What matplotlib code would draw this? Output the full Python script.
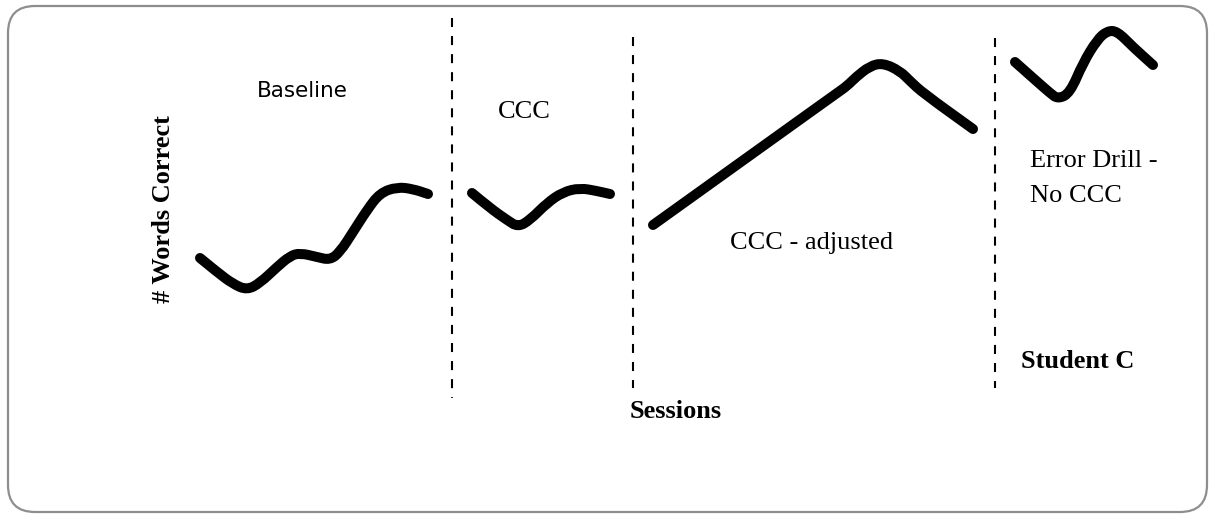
import matplotlib.pyplot as plt
from matplotlib.patches import FancyBboxPatch, PathPatch
from matplotlib.path import Path

# phase curves (x = session position, y = height on page, down is larger)
baseline_x = [200, 217, 233, 247, 260, 277, 290, 300, 317, 330, 340, 353, 367, 380, 397, 413, 428]
baseline_y = [258, 272, 284, 290, 283, 267, 256, 253, 257, 260, 252, 232, 210, 193, 187, 189, 194]

ccc_x = [472, 490, 507, 518, 530, 547, 563, 580, 597, 610]
ccc_y = [193, 208, 220, 227, 220, 203, 192, 188, 191, 194]

adjusted_x = [653, 837, 847, 856, 870, 883, 900, 910, 923, 973]
adjusted_y = [225, 93, 86, 77, 66, 63, 71, 81, 93, 129]

drill_x = [1015, 1033, 1050, 1058, 1070, 1083, 1097, 1107, 1117, 1133, 1153]
drill_y = [62, 78, 93, 99, 93, 63, 40, 31, 31, 47, 65]

# phase change lines: x, top, bottom
phase_x = [452, 633, 995]
phase_top = [18, 37, 38]
phase_bottom = [398, 388, 388]

plt.rcParams['lines.scale_dashes'] = False


def smooth_path(xs, ys):
    pts = list(zip(xs, ys))
    verts = [pts[0]]
    codes = [Path.MOVETO]
    for i in range(1, len(pts) - 1):
        mid = ((pts[i][0] + pts[i + 1][0]) / 2, (pts[i][1] + pts[i + 1][1]) / 2)
        verts += [pts[i], mid]
        codes += [Path.CURVE3, Path.CURVE3]
    verts.append(pts[-1])
    codes.append(Path.LINETO)
    return Path(verts, codes)


fig = plt.figure(figsize=(12.1, 5.14), dpi=100)
ax = fig.add_axes([0, 0, 1, 1])
ax.set_xlim(0, 1210)
ax.set_ylim(514, 0)
ax.axis("off")

box = FancyBboxPatch((8, 6), 1199, 506, boxstyle="round,pad=0,rounding_size=27",
                     fill=False, edgecolor="#8e8e8e", linewidth=1.6)
ax.add_patch(box)

for xs, ys in [(baseline_x, baseline_y), (ccc_x, ccc_y), (adjusted_x, adjusted_y), (drill_x, drill_y)]:
    ax.add_patch(PathPatch(smooth_path(xs, ys), fill=False, edgecolor="black", linewidth=7.2,
                           capstyle="round", joinstyle="round"))

for x, t, b in zip(phase_x, phase_top, phase_bottom):
    ax.plot([x, x], [t, b], color="black", linewidth=1.5, dashes=(6.5, 6.5))

serif = "Liberation Serif"
ax.text(302, 97, "Baseline", family="DejaVu Sans", fontsize=15.5, ha="center", va="baseline")
ax.text(524, 118, "CCC", family=serif, fontsize=19, ha="center", va="baseline")
ax.text(812, 249, "CCC - adjusted", family=serif, fontsize=19, ha="center", va="baseline")
ax.text(1030, 167, "Error Drill -", family=serif, fontsize=19, ha="left", va="baseline")
ax.text(1030, 202, "No CCC", family=serif, fontsize=19, ha="left", va="baseline")
ax.text(1021, 368, "Student C", family=serif, fontsize=19, fontweight="bold", ha="left", va="baseline")
ax.text(676, 418, "Sessions", family=serif, fontsize=19, fontweight="bold", ha="center", va="baseline")
ax.text(164, 209, "# Words Correct", family=serif, fontsize=19, fontweight="bold",
        rotation=90, ha="center", va="center")

fig.savefig("out.png", dpi=100)
